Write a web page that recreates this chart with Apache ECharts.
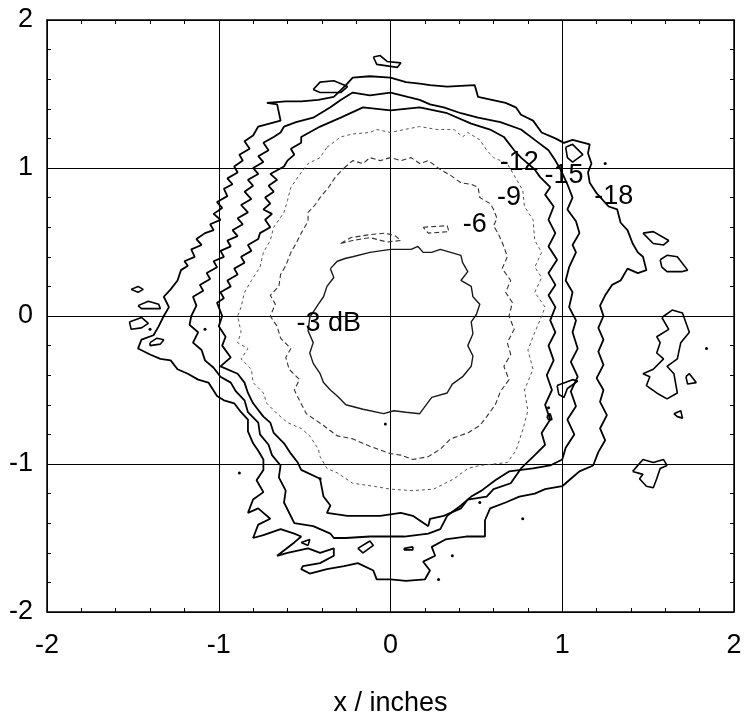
<!DOCTYPE html>
<html>
<head>
<meta charset="utf-8">
<title>Contour plot</title>
<script src="https://cdn.jsdelivr.net/npm/echarts@6/dist/echarts.min.js"></script>
<style>
  html, body { margin: 0; padding: 0; background: #fff; }
  #chart { width: 744px; height: 712px; }
</style>
</head>
<body>
<div id="chart"></div>
<script>
// contour loops, x / inches and y / inches
const contour3 = [[-0.35,0.32],[-0.31,0.37],[-0.26,0.39],[-0.22,0.40],[-0.12,0.43],[0,0.45],[0.12,0.45],[0.16,0.47],[0.19,0.43],[0.24,0.43],[0.29,0.45],[0.35,0.43],[0.41,0.41],[0.42,0.36],[0.45,0.30],[0.41,0.24],[0.47,0.20],[0.48,0.13],[0.52,0.08],[0.50,0.01],[0.47,-0.04],[0.48,-0.12],[0.45,-0.20],[0.48,-0.27],[0.47,-0.34],[0.42,-0.41],[0.36,-0.46],[0.33,-0.52],[0.24,-0.55],[0.17,-0.66],[0.09,-0.65],[0.02,-0.64],[-0.04,-0.66],[-0.16,-0.63],[-0.26,-0.60],[-0.31,-0.54],[-0.35,-0.50],[-0.39,-0.45],[-0.41,-0.39],[-0.45,-0.32],[-0.47,-0.25],[-0.45,-0.18],[-0.48,-0.10],[-0.47,-0.01],[-0.42,0.08],[-0.39,0.13],[-0.37,0.20],[-0.33,0.26]];

const contour6 = [[-0.27,1.00],[-0.22,1.05],[-0.16,1.03],[-0.12,1.07],[-0.06,1.05],[0,1.07],[0.06,1.05],[0.12,1.07],[0.17,1.03],[0.22,1.05],[0.29,0.99],[0.35,0.95],[0.41,0.90],[0.47,0.89],[0.51,0.87],[0.52,0.80],[0.58,0.76],[0.60,0.72],[0.62,0.66],[0.60,0.61],[0.63,0.55],[0.66,0.47],[0.68,0.40],[0.65,0.32],[0.70,0.24],[0.67,0.16],[0.71,0.09],[0.69,0],[0.72,-0.09],[0.68,-0.18],[0.70,-0.26],[0.66,-0.34],[0.69,-0.43],[0.64,-0.51],[0.61,-0.60],[0.56,-0.68],[0.52,-0.74],[0.45,-0.79],[0.35,-0.83],[0.29,-0.90],[0.22,-0.95],[0.13,-0.97],[0.06,-0.94],[0,-0.93],[-0.12,-0.88],[-0.22,-0.83],[-0.31,-0.81],[-0.39,-0.74],[-0.44,-0.70],[-0.49,-0.66],[-0.53,-0.57],[-0.56,-0.50],[-0.53,-0.43],[-0.59,-0.36],[-0.61,-0.28],[-0.58,-0.22],[-0.64,-0.15],[-0.66,-0.07],[-0.70,0],[-0.67,0.08],[-0.70,0.14],[-0.65,0.20],[-0.64,0.28],[-0.61,0.34],[-0.58,0.43],[-0.55,0.49],[-0.52,0.56],[-0.48,0.64],[-0.48,0.70],[-0.44,0.75],[-0.41,0.80],[-0.36,0.87],[-0.32,0.94]];
const island6a = [[-0.29,0.49],[-0.22,0.51],[-0.12,0.53],[-0.02,0.50],[0.06,0.51],[0.03,0.54],[-0.03,0.56],[-0.12,0.55],[-0.23,0.53]];
const island6b = [[0.19,0.60],[0.33,0.61],[0.34,0.57],[0.22,0.56]];

const contour9 = [[-0.37,1.14],[-0.29,1.21],[-0.22,1.23],[-0.12,1.24],[-0.08,1.26],[0,1.24],[0.08,1.26],[0.17,1.28],[0.27,1.26],[0.37,1.26],[0.42,1.21],[0.45,1.24],[0.52,1.19],[0.56,1.12],[0.60,1.07],[0.68,1.03],[0.72,0.95],[0.77,0.85],[0.78,0.74],[0.83,0.65],[0.84,0.51],[0.88,0.43],[0.84,0.33],[0.88,0.26],[0.84,0.16],[0.90,0.06],[0.87,-0.03],[0.84,-0.11],[0.80,-0.23],[0.83,-0.36],[0.78,-0.50],[0.80,-0.64],[0.77,-0.77],[0.73,-0.91],[0.68,-0.99],[0.52,-1.01],[0.45,-1.03],[0.37,-1.10],[0.25,-1.17],[0.13,-1.18],[0,-1.17],[-0.10,-1.15],[-0.22,-1.13],[-0.31,-1.06],[-0.37,-1.03],[-0.41,-0.95],[-0.42,-0.90],[-0.47,-0.81],[-0.52,-0.76],[-0.60,-0.72],[-0.66,-0.66],[-0.72,-0.59],[-0.74,-0.52],[-0.80,-0.45],[-0.81,-0.36],[-0.87,-0.29],[-0.83,-0.22],[-0.89,-0.18],[-0.87,-0.11],[-0.89,0],[-0.87,0.06],[-0.85,0.16],[-0.81,0.24],[-0.76,0.33],[-0.74,0.43],[-0.70,0.51],[-0.68,0.60],[-0.62,0.70],[-0.60,0.78],[-0.58,0.87],[-0.52,0.97],[-0.48,1.03],[-0.41,1.07]];

const contour12 = [[0.72,1.12],[0.76,1.07],[0.84,0.99],[0.87,0.94],[0.93,0.87],[0.90,0.82],[0.95,0.74],[0.92,0.65],[0.96,0.56],[0.92,0.47],[0.97,0.38],[0.92,0.29],[0.96,0.21],[0.92,0.14],[0.96,0.06],[0.93,-0.03],[0.96,-0.11],[0.92,-0.20],[0.95,-0.30],[0.91,-0.40],[0.94,-0.50],[0.90,-0.60],[0.93,-0.70],[0.88,-0.79],[0.90,-0.87],[0.84,-0.94],[0.76,-1.03],[0.70,-1.13],[0.60,-1.17],[0.56,-1.22],[0.45,-1.24],[0.41,-1.30],[0.31,-1.35],[0.23,-1.37],[0.22,-1.42],[0.13,-1.35],[0.06,-1.33],[-0.06,-1.35],[-0.25,-1.35],[-0.37,-1.33],[-0.35,-1.28],[-0.39,-1.22],[-0.41,-1.10],[-0.52,-1.04],[-0.54,-0.99],[-0.58,-0.93],[-0.62,-0.86],[-0.68,-0.79],[-0.70,-0.72],[-0.74,-0.68],[-0.80,-0.59],[-0.83,-0.52],[-0.85,-0.45],[-0.89,-0.39],[-0.99,-0.34],[-0.93,-0.28],[-0.98,-0.20],[-0.96,-0.14],[-1.00,-0.07],[-0.98,0],[-1.01,0.09],[-0.97,0.12],[-0.99,0.16],[-0.93,0.20],[-0.95,0.24],[-0.89,0.28],[-0.91,0.32],[-0.85,0.36],[-0.87,0.40],[-0.81,0.44],[-0.83,0.48],[-0.77,0.52],[-0.76,0.56],[-0.70,0.60],[-0.73,0.65],[-0.69,0.69],[-0.74,0.72],[-0.70,0.76],[-0.73,0.80],[-0.68,0.84],[-0.71,0.88],[-0.66,0.92],[-0.70,0.96],[-0.62,1.01],[-0.60,1.05],[-0.56,1.09],[-0.58,1.13],[-0.52,1.17],[-0.52,1.21],[-0.41,1.28],[-0.29,1.34],[-0.16,1.41],[0,1.39],[0.17,1.41],[0.33,1.37],[0.47,1.30],[0.58,1.26],[0.66,1.21]];

const contour15 = [[-0.62,1.28],[-0.55,1.31],[-0.45,1.34],[-0.35,1.41],[-0.29,1.46],[-0.22,1.51],[-0.12,1.49],[0,1.51],[0.10,1.48],[0.17,1.46],[0.23,1.43],[0.31,1.41],[0.41,1.37],[0.51,1.34],[0.64,1.31],[0.76,1.26],[0.84,1.19],[0.92,1.12],[0.96,1.05],[0.99,0.99],[1.03,0.89],[1.06,0.80],[1.03,0.72],[1.08,0.64],[1.10,0.56],[1.06,0.48],[1.08,0.43],[1.04,0.33],[1.02,0.24],[1.06,0.16],[1.04,0.06],[1.08,-0.03],[1.06,-0.11],[1.09,-0.22],[1.05,-0.31],[1.09,-0.41],[1.05,-0.51],[1.08,-0.61],[1.03,-0.70],[1.07,-0.80],[1.02,-0.89],[1.00,-0.97],[0.93,-1.01],[0.83,-1.03],[0.69,-1.05],[0.61,-1.11],[0.53,-1.18],[0.47,-1.22],[0.41,-1.28],[0.33,-1.35],[0.29,-1.44],[0.22,-1.47],[0.08,-1.49],[-0.12,-1.49],[-0.26,-1.50],[-0.33,-1.50],[-0.35,-1.47],[-0.45,-1.42],[-0.56,-1.40],[-0.62,-1.26],[-0.61,-1.18],[-0.65,-1.09],[-0.64,-1.01],[-0.69,-0.94],[-0.71,-0.87],[-0.76,-0.80],[-0.77,-0.72],[-0.83,-0.65],[-0.85,-0.57],[-0.90,-0.51],[-0.93,-0.45],[-0.99,-0.41],[-1.03,-0.35],[-1.08,-0.30],[-1.10,-0.23],[-1.15,-0.18],[-1.12,-0.11],[-1.17,-0.06],[-1.16,0],[-1.13,0.07],[-1.15,0.13],[-1.09,0.17],[-1.11,0.21],[-1.05,0.25],[-1.07,0.29],[-1.01,0.33],[-1.03,0.37],[-0.97,0.40],[-0.99,0.44],[-0.93,0.47],[-0.95,0.51],[-0.89,0.54],[-0.92,0.58],[-0.86,0.62],[-0.89,0.66],[-0.83,0.70],[-0.87,0.75],[-0.81,0.79],[-0.85,0.84],[-0.80,0.88],[-0.83,0.92],[-0.77,0.96],[-0.80,1.00],[-0.74,1.04],[-0.77,1.08],[-0.71,1.12],[-0.74,1.17],[-0.68,1.21],[-0.64,1.24]];

const contour18 = [[-0.72,1.44],[-0.61,1.45],[-0.52,1.45],[-0.42,1.46],[-0.33,1.48],[-0.26,1.56],[-0.22,1.61],[-0.12,1.62],[0,1.61],[0.09,1.58],[0.17,1.57],[0.23,1.56],[0.33,1.55],[0.49,1.56],[0.51,1.48],[0.59,1.46],[0.67,1.44],[0.73,1.41],[0.76,1.36],[0.83,1.32],[0.88,1.24],[0.96,1.20],[1.01,1.17],[1.06,1.19],[1.16,1.16],[1.15,1.10],[1.17,1.03],[1.15,0.97],[1.16,0.90],[1.20,0.83],[1.27,0.74],[1.32,0.72],[1.34,0.63],[1.38,0.58],[1.41,0.49],[1.44,0.43],[1.47,0.40],[1.49,0.31],[1.44,0.29],[1.38,0.32],[1.34,0.24],[1.29,0.21],[1.25,0.14],[1.22,0.07],[1.24,0],[1.21,-0.08],[1.24,-0.16],[1.21,-0.24],[1.24,-0.33],[1.20,-0.42],[1.24,-0.50],[1.22,-0.58],[1.26,-0.67],[1.22,-0.76],[1.25,-0.84],[1.21,-0.92],[1.18,-1.01],[1.10,-1.05],[1.05,-1.10],[1.00,-1.15],[0.90,-1.17],[0.84,-1.20],[0.75,-1.22],[0.67,-1.26],[0.58,-1.30],[0.55,-1.38],[0.55,-1.49],[0.44,-1.49],[0.32,-1.51],[0.24,-1.56],[0.26,-1.62],[0.19,-1.66],[0.23,-1.72],[0.20,-1.78],[0.09,-1.79],[0,-1.78],[-0.08,-1.78],[-0.10,-1.72],[-0.19,-1.67],[-0.27,-1.69],[-0.37,-1.71],[-0.47,-1.74],[-0.52,-1.71],[-0.51,-1.69],[-0.41,-1.67],[-0.33,-1.62],[-0.33,-1.57],[-0.41,-1.60],[-0.48,-1.57],[-0.60,-1.60],[-0.66,-1.62],[-0.56,-1.53],[-0.52,-1.49],[-0.56,-1.47],[-0.64,-1.44],[-0.74,-1.48],[-0.80,-1.50],[-0.77,-1.41],[-0.70,-1.37],[-0.74,-1.33],[-0.77,-1.30],[-0.83,-1.33],[-0.80,-1.24],[-0.74,-1.19],[-0.78,-1.11],[-0.74,-1.04],[-0.74,-0.97],[-0.77,-0.91],[-0.80,-0.86],[-0.83,-0.78],[-0.83,-0.70],[-0.87,-0.65],[-0.91,-0.59],[-0.97,-0.57],[-1.01,-0.54],[-1.06,-0.45],[-1.12,-0.43],[-1.18,-0.39],[-1.24,-0.36],[-1.28,-0.30],[-1.34,-0.29],[-1.40,-0.26],[-1.47,-0.22],[-1.45,-0.16],[-1.38,-0.13],[-1.35,-0.07],[-1.32,0],[-1.29,0.06],[-1.32,0.13],[-1.28,0.18],[-1.24,0.24],[-1.22,0.31],[-1.18,0.34],[-1.20,0.37],[-1.14,0.40],[-1.16,0.45],[-1.10,0.48],[-1.13,0.52],[-1.08,0.56],[-1.03,0.58],[-1.05,0.62],[-0.99,0.65],[-1.03,0.69],[-0.98,0.73],[-1.01,0.77],[-0.95,0.81],[-0.97,0.86],[-0.92,0.89],[-0.95,0.93],[-0.89,0.97],[-0.91,1.01],[-0.86,1.05],[-0.88,1.09],[-0.82,1.13],[-0.85,1.18],[-0.80,1.22],[-0.77,1.28],[-0.64,1.32],[-0.66,1.43]];

// small closed islands drawn like the outer contours
const islands = [
  [[-0.45,1.53],[-0.41,1.58],[-0.33,1.59],[-0.25,1.55],[-0.29,1.51],[-0.41,1.51]],
  [[-0.10,1.75],[-0.06,1.76],[-0.02,1.72],[0.06,1.71],[0.04,1.68],[-0.08,1.70]],
  [[1.02,1.14],[1.06,1.16],[1.12,1.09],[1.06,1.04],[1.03,1.07]],
  [[1.47,0.56],[1.53,0.57],[1.62,0.51],[1.59,0.48],[1.53,0.49]],
  [[1.57,0.38],[1.61,0.41],[1.67,0.40],[1.73,0.31],[1.70,0.30],[1.61,0.30],[1.58,0.33]],
  [[1.58,-0.01],[1.64,0.04],[1.70,0.02],[1.74,-0.11],[1.69,-0.18],[1.67,-0.29],[1.61,-0.34],[1.65,-0.39],[1.67,-0.52],[1.61,-0.56],[1.55,-0.52],[1.49,-0.47],[1.51,-0.41],[1.47,-0.39],[1.53,-0.36],[1.59,-0.29],[1.55,-0.25],[1.57,-0.18],[1.55,-0.14],[1.62,-0.09]],
  [[1.72,-0.41],[1.74,-0.39],[1.78,-0.45],[1.73,-0.46]],
  [[1.65,-0.66],[1.69,-0.64],[1.70,-0.69],[1.67,-0.68]],
  [[1.41,-1.05],[1.47,-0.97],[1.53,-0.99],[1.59,-0.97],[1.61,-1.01],[1.57,-1.03],[1.55,-1.10],[1.53,-1.16],[1.49,-1.15],[1.45,-1.10],[1.47,-1.07]],
  [[0.97,-0.47],[1.06,-0.43],[1.09,-0.44],[1.03,-0.49],[1.01,-0.55],[0.98,-0.53]],
  [[-1.51,0.18],[-1.47,0.20],[-1.44,0.18],[-1.47,0.16]],
  [[-1.47,0.07],[-1.41,0.10],[-1.35,0.08],[-1.34,0.05],[-1.40,0.05],[-1.45,0.05]],
  [[-1.40,-0.18],[-1.36,-0.15],[-1.32,-0.16],[-1.34,-0.19],[-1.40,-0.20]],
  [[-1.52,-0.04],[-1.45,-0.01],[-1.41,-0.05],[-1.45,-0.08],[-1.51,-0.09]],
  [[-0.52,-1.53],[-0.47,-1.51],[-0.48,-1.55]],
  [[-0.19,-1.57],[-0.12,-1.52],[-0.10,-1.55],[-0.16,-1.60]],
  [[0.08,-1.57],[0.13,-1.56],[0.13,-1.58],[0.08,-1.58]],
  [[0.91,-0.68],[0.93,-0.66],[0.94,-0.70],[0.92,-0.70]]
];

const specks = [[1.25,1.03],[1.84,-0.22],[-0.03,-0.73],[-0.41,-1.10],[0.52,-1.26],[0.77,-1.37],[0.36,-1.62],[0.28,-1.78],[-0.88,-1.06],[-1.40,-0.09],[-1.08,-0.09],[0.92,-0.62]];

const levelLabels = ['-3 dB', '-6', '-9', '-12', '-15', '-18'];
const labelX = [-0.36, 0.49, 0.69, 0.75, 1.01, 1.30];
const labelY = [-0.05, 0.62, 0.80, 1.04, 0.95, 0.81];

const FONT = 'Liberation Sans, Arial, sans-serif';
const solid = { color: '#000', width: 1.8, type: 'solid' };

function loopSeries(points, lineStyle) {
  return {
    type: 'line',
    data: points.concat([points[0]]),
    showSymbol: false,
    symbol: 'none',
    silent: true,
    z: 3,
    lineStyle: lineStyle
  };
}

const series = [
  loopSeries(contour18, solid),
  loopSeries(contour15, solid),
  loopSeries(contour12, solid),
  loopSeries(contour9, { color: '#555', width: 1, type: [3, 3] }),
  loopSeries(contour6, { color: '#333', width: 1.1, type: [5, 3] }),
  loopSeries(island6a, { color: '#333', width: 1.1, type: [5, 3] }),
  loopSeries(island6b, { color: '#333', width: 1.1, type: [5, 3] }),
  loopSeries(contour3, { color: '#1a1a1a', width: 1.4, type: 'solid' })
];
islands.forEach((isl) => series.push(loopSeries(isl, { color: '#000', width: 1.6 })));

series.push({
  type: 'scatter',
  data: specks,
  symbolSize: 3,
  itemStyle: { color: '#000', opacity: 1 },
  silent: true,
  z: 4
});

series.push({
  type: 'scatter',
  symbolSize: 0,
  silent: true,
  z: 5,
  itemStyle: { color: '#000', opacity: 1 },
  data: levelLabels.map((t, i) => ({ value: [labelX[i], labelY[i]], name: t })),
  label: {
    show: true,
    position: 'inside',
    formatter: (p) => p.name,
    fontSize: 27,
    fontFamily: FONT,
    color: '#000'
  }
});

const axisLineStyle = { color: '#000', width: 1.5 };
const minorTick = { show: true, splitNumber: 5, length: 4, lineStyle: { color: '#000', width: 1 } };
const tick = { show: true, inside: true, length: 4, lineStyle: { color: '#000' } };
const labelText = { fontSize: 27, fontFamily: FONT, color: '#000' };

const option = {
  animation: false,
  backgroundColor: '#fff',
  grid: { left: 47, right: 10, top: 20, bottom: 100, containLabel: false, outerBoundsMode: 'none' },
  xAxis: [
    {
      type: 'value', min: -2, max: 2, interval: 1, position: 'bottom',
      name: 'x / inches', nameLocation: 'middle', nameGap: 78,
      nameTextStyle: labelText,
      axisLine: { show: true, onZero: false, lineStyle: axisLineStyle },
      axisTick: tick,
      minorTick: minorTick,
      splitLine: { show: true, lineStyle: { color: '#000', width: 1 } },
      axisLabel: Object.assign({ margin: 20 }, labelText)
    },
    {
      type: 'value', min: -2, max: 2, interval: 1, position: 'top',
      axisLine: { show: true, onZero: false, lineStyle: axisLineStyle },
      axisTick: tick,
      minorTick: minorTick,
      splitLine: { show: false },
      axisLabel: { show: false }
    }
  ],
  yAxis: [
    {
      type: 'value', min: -2, max: 2, interval: 1, position: 'left',
      axisLine: { show: true, onZero: false, lineStyle: axisLineStyle },
      axisTick: tick,
      minorTick: minorTick,
      splitLine: { show: true, lineStyle: { color: '#000', width: 1 } },
      axisLabel: Object.assign({ margin: 14 }, labelText)
    },
    {
      type: 'value', min: -2, max: 2, interval: 1, position: 'right',
      axisLine: { show: true, onZero: false, lineStyle: axisLineStyle },
      axisTick: tick,
      minorTick: minorTick,
      splitLine: { show: false },
      axisLabel: { show: false }
    }
  ],
  series: series
};

const chart = echarts.init(document.getElementById('chart'), null, { renderer: 'canvas' });
chart.setOption(option);
</script>
</body>
</html>
